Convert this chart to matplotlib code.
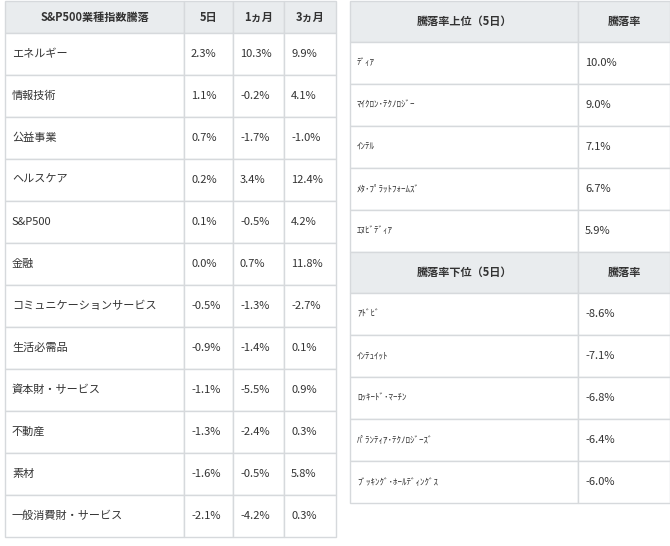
import matplotlib.pyplot as plt
from matplotlib.patches import Rectangle

plt.rcParams['font.family'] = ['Noto Sans CJK JP', 'DejaVu Sans']

# --- data ---
sector_header = ["S&P500業種指数騰落", "5日", "1ヵ月", "3ヵ月"]
sectors = ["エネルギー", "情報技術", "公益事業", "ヘルスケア", "S&P500", "金融",
           "コミュニケーションサービス", "生活必需品", "資本財・サービス", "不動産",
           "素材", "一般消費財・サービス"]
d5 = ["2.3%", "1.1%", "0.7%", "0.2%", "0.1%", "0.0%", "-0.5%", "-0.9%", "-1.1%", "-1.3%", "-1.6%", "-2.1%"]
m1 = ["10.3%", "-0.2%", "-1.7%", "3.4%", "-0.5%", "0.7%", "-1.3%", "-1.4%", "-5.5%", "-2.4%", "-0.5%", "-4.2%"]
m3 = ["9.9%", "4.1%", "-1.0%", "12.4%", "4.2%", "11.8%", "-2.7%", "0.1%", "0.9%", "0.3%", "5.8%", "0.3%"]

top_header = ["騰落率上位（5日）", "騰落率"]
top_names = ["ﾃﾞｨｱ", "ﾏｲｸﾛﾝ･ﾃｸﾉﾛｼﾞｰ", "ｲﾝﾃﾙ", "ﾒﾀ･ﾌﾟﾗｯﾄﾌｫｰﾑｽﾞ", "ｴﾇﾋﾞﾃﾞｨｱ"]
top_vals = ["10.0%", "9.0%", "7.1%", "6.7%", "5.9%"]
bot_header = ["騰落率下位（5日）", "騰落率"]
bot_names = ["ｱﾄﾞﾋﾞ", "ｲﾝﾃｭｲｯﾄ", "ﾛｯｷｰﾄﾞ･ﾏｰﾁﾝ", "ﾊﾟﾗﾝﾃｨｱ･ﾃｸﾉﾛｼﾞｰｽﾞ", "ﾌﾞｯｷﾝｸﾞ･ﾎｰﾙﾃﾞｨﾝｸﾞｽ"]
bot_vals = ["-8.6%", "-7.1%", "-6.8%", "-6.4%", "-6.0%"]

HEAD = "#e9ecee"
LINE = "#d6d9dc"
TXT = "#333333"

fig = plt.figure(figsize=(6.7, 5.46), dpi=100)
ax = fig.add_axes([0, 0, 1, 1])
ax.set_xlim(0, 670)
ax.set_ylim(546, 0)
ax.axis("off")


def cell(x0, x1, y0, y1, text, head=False, size=8.0):
    ax.add_patch(Rectangle((x0, y0), x1 - x0, y1 - y0, facecolor=HEAD if head else "white",
                           edgecolor=LINE, lw=1))
    if head:
        ax.text((x0 + x1) / 2, (y0 + y1) / 2, text, ha="center", va="center",
                fontsize=8, fontweight="bold", color=TXT)
    else:
        ax.text(x0 + 7, (y0 + y1) / 2, text, ha="left", va="center", fontsize=size, color=TXT)


# left table
lx = [5, 184, 233, 284, 336]
y = 1
for i, h in enumerate(sector_header):
    cell(lx[i], lx[i + 1], y, 33, h, head=True)
y = 33
for row in zip(sectors, d5, m1, m3):
    for i, t in enumerate(row):
        cell(lx[i], lx[i + 1], y, y + 42, t)
    y += 42

# right table
rx = [350, 578, 670]
y = 1
for header, names, vals in [(top_header, top_names, top_vals), (bot_header, bot_names, bot_vals)]:
    for i, h in enumerate(header):
        cell(rx[i], rx[i + 1], y, y + 41, h, head=True)
    y += 41
    for n, v in zip(names, vals):
        cell(rx[0], rx[1], y, y + 42, n, size=6.5)
        cell(rx[1], rx[2], y, y + 42, v)
        y += 42

fig.savefig("out.png", dpi=100)
